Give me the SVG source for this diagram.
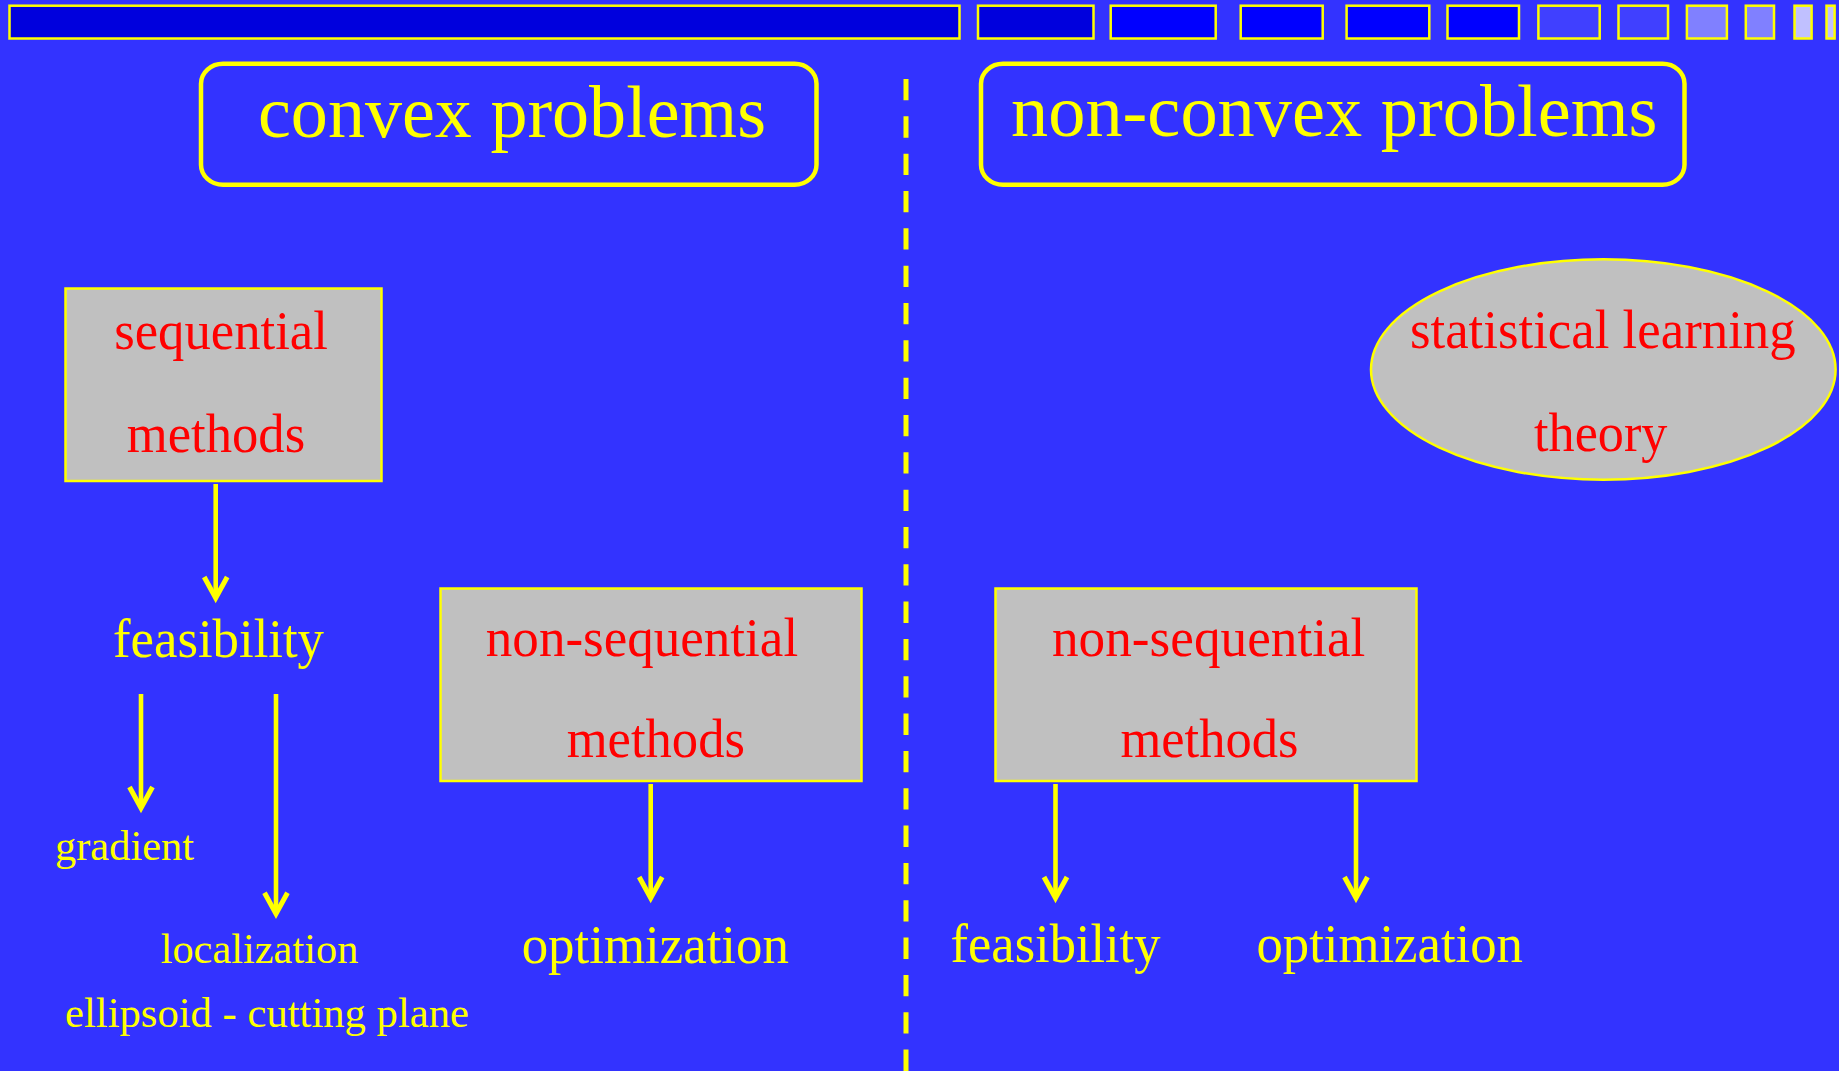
<svg xmlns="http://www.w3.org/2000/svg" width="1839" height="1071" viewBox="0 0 1839 1071">
<style>
.bar{stroke:#ffff00;stroke-width:2.5}
.title{fill:none;stroke:#ffff00;stroke-width:4.5}
.box{fill:#c0c0c0;stroke:#ffff00;stroke-width:2.5}
.t{font-family:"Liberation Serif","Times New Roman",serif;text-anchor:middle}
.red{fill:#ff0000;font-size:54px}
.yl{fill:#ffff00;font-size:54px}
.ys{fill:#ffff00;font-size:42.5px}
.yt{fill:#ffff00;font-size:74px}
.edge{stroke:#ffff00;stroke-width:4.6;fill:none}
</style>
<defs>
<marker id="arr" markerUnits="userSpaceOnUse" viewBox="-30 -16 36 32" refX="0" refY="0" markerWidth="36" markerHeight="32" orient="auto">
<path d="M-21,-11.5 L0,0 L-21,11.5" fill="none" stroke="#ffff00" stroke-width="5" stroke-linejoin="miter"/>
</marker>
</defs>
<rect x="0" y="0" width="1839" height="1071" fill="#3333ff"/>
<g id="navbar">
<rect class="bar" x="9.5" y="5.7" width="950" height="32.8" fill="#0000dd"/>
<rect class="bar" x="978" y="5.7" width="115.5" height="32.8" fill="#0000dd"/>
<rect class="bar" x="1110.7" y="5.7" width="105" height="32.8" fill="#0000ff"/>
<rect class="bar" x="1240.7" y="5.7" width="82" height="32.8" fill="#0000ff"/>
<rect class="bar" x="1346.6" y="5.7" width="82.7" height="32.8" fill="#0000ff"/>
<rect class="bar" x="1447.5" y="5.7" width="71.5" height="32.8" fill="#0000ff"/>
<rect class="bar" x="1538.4" y="5.7" width="61.3" height="32.8" fill="#4040ff"/>
<rect class="bar" x="1618.5" y="5.7" width="49.5" height="32.8" fill="#4040ff"/>
<rect class="bar" x="1686.9" y="5.7" width="40" height="32.8" fill="#8080ff"/>
<rect class="bar" x="1745.8" y="5.7" width="28.2" height="32.8" fill="#8080ff"/>
<rect class="bar" x="1794.5" y="5.7" width="17.1" height="32.8" fill="#c0c0ff"/>
<rect class="bar" x="1826.5" y="5.7" width="8.1" height="32.8" fill="#c0c0ff"/>
</g>
<g id="divider">
<line x1="906" y1="79" x2="906" y2="1071" stroke="#ffff00" stroke-width="5" stroke-dasharray="21.3 16.03"/>
</g>
<g id="convex">
<rect class="title" x="201" y="63.7" width="615.5" height="121" rx="22" ry="20"/>
<text class="t yt" x="512" y="136.5" textLength="508" lengthAdjust="spacingAndGlyphs">convex problems</text>
</g>
<g id="nonconvex">
<rect class="title" x="981" y="63.7" width="703.5" height="121" rx="22" ry="20"/>
<text class="t yt" x="1334.3" y="136" textLength="646.5" lengthAdjust="spacingAndGlyphs">non-convex problems</text>
</g>
<g id="sequential">
<rect class="box" x="65.5" y="288.5" width="316" height="192.5"/>
<text class="t red" x="221" y="349" textLength="213.7" lengthAdjust="spacingAndGlyphs">sequential</text>
<text class="t red" x="216" y="451.7" textLength="178.3" lengthAdjust="spacingAndGlyphs">methods</text>
</g>
<g id="nonseq-left">
<rect class="box" x="440.5" y="588.5" width="421" height="192.5"/>
<text class="t red" x="642" y="656" textLength="312.3" lengthAdjust="spacingAndGlyphs">non-sequential</text>
<text class="t red" x="655.8" y="757.3" textLength="178.3" lengthAdjust="spacingAndGlyphs">methods</text>
</g>
<g id="nonseq-right">
<rect class="box" x="995.5" y="588.5" width="421" height="192.5"/>
<text class="t red" x="1208.7" y="656" textLength="313.4" lengthAdjust="spacingAndGlyphs">non-sequential</text>
<text class="t red" x="1209.4" y="757.3" textLength="178" lengthAdjust="spacingAndGlyphs">methods</text>
</g>
<g id="slt">
<ellipse cx="1603.3" cy="369.5" rx="232.3" ry="110.2" fill="#c0c0c0" stroke="#ffff00" stroke-width="2.5"/>
<text class="t red" x="1602.8" y="348.3" textLength="385.7" lengthAdjust="spacingAndGlyphs">statistical learning</text>
<text class="t red" x="1600.7" y="450.7" textLength="133.3" lengthAdjust="spacingAndGlyphs">theory</text>
</g>
<g id="feas-left">
<text class="t yl" x="218.5" y="656.7" textLength="211" lengthAdjust="spacingAndGlyphs">feasibility</text>
</g>
<g id="gradient">
<text class="t ys" x="124.5" y="860" textLength="139" lengthAdjust="spacingAndGlyphs">gradient</text>
</g>
<g id="localization">
<text class="t ys" x="259.5" y="962.7" textLength="197.7" lengthAdjust="spacingAndGlyphs">localization</text>
<text class="t ys" x="267" y="1026.7" textLength="404" lengthAdjust="spacingAndGlyphs">ellipsoid - cutting plane</text>
</g>
<g id="opt-left">
<text class="t yl" x="655.3" y="963.3" textLength="267.3" lengthAdjust="spacingAndGlyphs">optimization</text>
</g>
<g id="feas-right">
<text class="t yl" x="1055.5" y="962.3" textLength="209.8" lengthAdjust="spacingAndGlyphs">feasibility</text>
</g>
<g id="opt-right">
<text class="t yl" x="1389.7" y="962.3" textLength="266.6" lengthAdjust="spacingAndGlyphs">optimization</text>
</g>
<g id="connectors">
<line class="edge" x1="215.7" y1="484" x2="215.7" y2="598" marker-end="url(#arr)"/>
<line class="edge" x1="141" y1="694" x2="141" y2="808" marker-end="url(#arr)"/>
<line class="edge" x1="276" y1="694" x2="276" y2="913.7" marker-end="url(#arr)"/>
<line class="edge" x1="650.7" y1="784" x2="650.7" y2="898" marker-end="url(#arr)"/>
<line class="edge" x1="1055.5" y1="784" x2="1055.5" y2="898" marker-end="url(#arr)"/>
<line class="edge" x1="1356" y1="784" x2="1356" y2="898" marker-end="url(#arr)"/>
</g>
</svg>
